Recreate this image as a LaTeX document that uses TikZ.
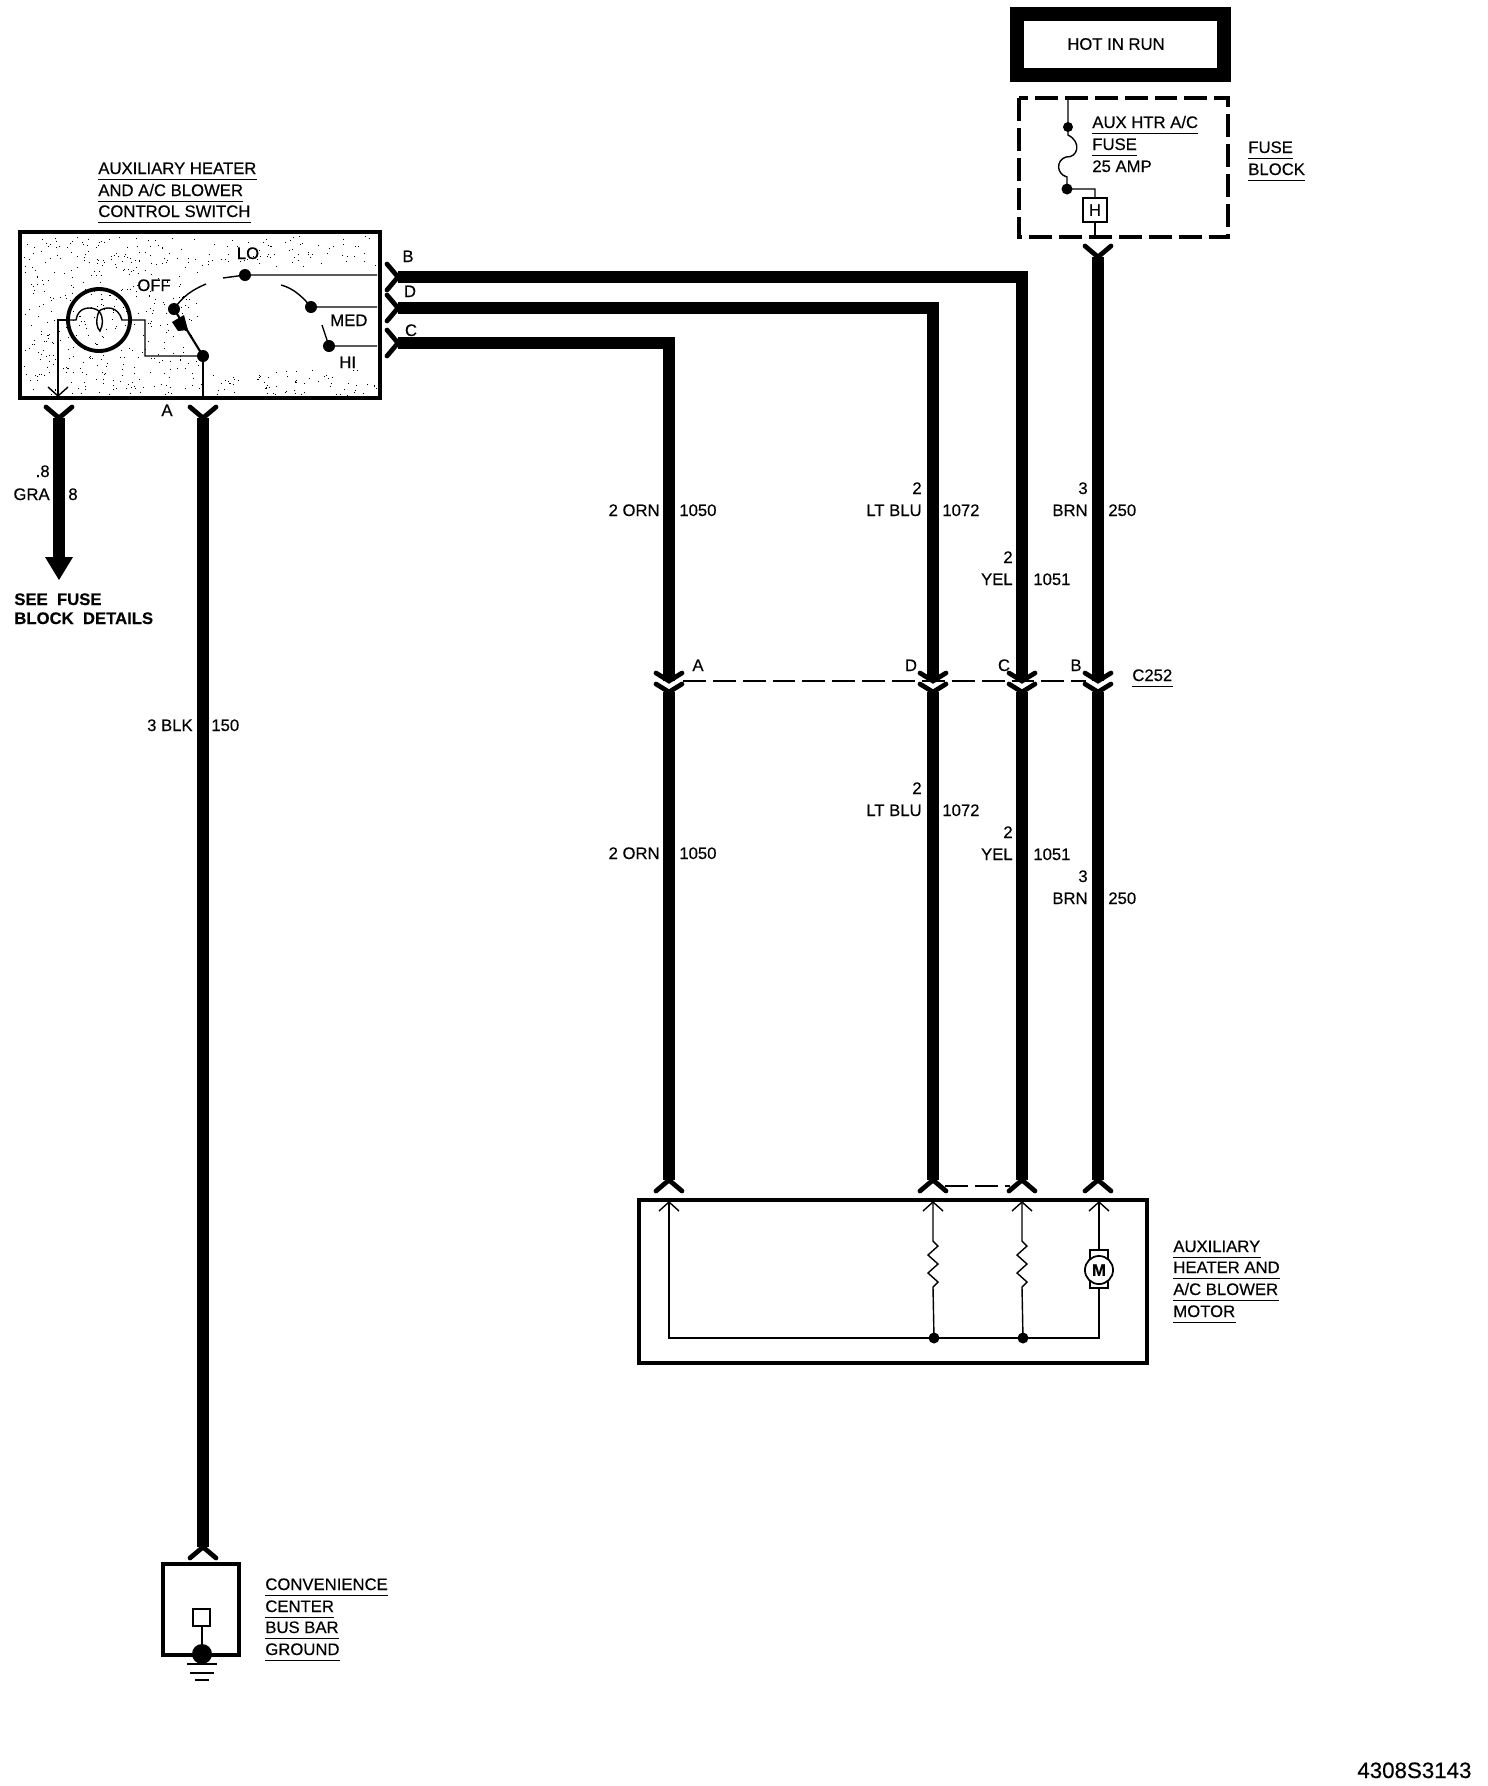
\documentclass[tikz,border=0pt]{standalone}
\usepackage{fontspec}
\usetikzlibrary{shapes.geometric}
\setmainfont[FakeBold=0.3]{Liberation Sans}
\tikzset{
	wire/.style={line width=7.2pt},
	thinwire/.style={line width=0.8pt},
	pinarm/.style={line width=2.7pt, line cap=round},
	lbl/.style={font=\fontsize{9.5}{11}\selectfont, inner sep=0pt},
	pics/fork/.style={code={\draw[pinarm] (-13,-11) -- (0,0) -- (13,-11);}},
	pics/mate/.style={code={\draw[pinarm] (-13,-8) -- (0,0) -- (13,-8);}},
	pics/openarrow/.style={code={\draw[thinwire] (-10,9) -- (0,0) -- (10,9);}}
}
\begin{document}
\begin{tikzpicture}[x=0.02cm, y=-0.02cm]

\useasboundingbox (0, 0) rectangle (1488, 1786);

% control switch
\pgfmathsetseed{7}
\foreach \i in {1,...,420} {
	\pgfmathsetmacro\sx{24+rnd*175}
	\pgfmathsetmacro\sy{236+rnd*158}
	\fill (\sx, \sy) rectangle ++(1, 1);
}
\foreach \i in {1,...,70} {
	\pgfmathsetmacro\sx{200+rnd*176}
	\pgfmathsetmacro\sy{236+rnd*30}
	\fill (\sx, \sy) rectangle ++(1, 1);
	\pgfmathsetmacro\tx{200+rnd*176}
	\pgfmathsetmacro\ty{370+rnd*26}
	\fill (\tx, \ty) rectangle ++(1, 1);
}
\draw[line width=2.3pt] (20, 232) rectangle (380, 398);
\draw[line width=2.2pt] (99, 320) circle (31);
\draw[thinwire] (58, 396) -- (58, 320) -- (66, 320);
\pic[rotate=180] at (58, 396) {openarrow};
\draw[thinwire] (68, 320) -- (76, 320) .. controls (78, 306) and (92, 306) .. (99, 311)
	.. controls (95, 322) and (97, 328) .. (100, 331) .. controls (103, 325) and (104, 318) .. (99, 311)
	.. controls (106, 306) and (118, 306) .. (122, 320) -- (145, 320) -- (145, 356) -- (203, 356);
\coordinate (swcom) at (203, 356);
\coordinate (swoff) at (174, 309);
\draw[thinwire] (swcom) -- (203, 397);
\draw[line width=1.2pt] (swcom) -- (swoff);
\fill (172, 322) -- (184, 315) -- (188, 330) -- (178, 331) -- cycle;
\draw[thinwire] (swoff) .. controls (183, 296) and (192, 290) .. (206, 284);
\draw[thinwire] (223, 278) -- (245, 275) -- (377, 275);
\draw[thinwire] (281, 285) .. controls (293, 288) and (303, 297) .. (311, 307) -- (377, 307);
\draw[thinwire] (322, 325) -- (329, 346) -- (377, 346);
\foreach \x/\y in {203/356, 174/309, 245/275, 311/307, 329/346}
	\fill (\x, \y) circle (6);
\node[lbl, anchor=base] (lo) at (248, 259) {LO};
\node[lbl, anchor=base west] (off) at (137, 291) {OFF};
\node[lbl, anchor=base west] (med) at (330, 326) {MED};
\node[lbl, anchor=base west] (hi) at (339, 368) {HI};

% titles with a rule under each line
\foreach \n/\x/\y/\t in {
	t1/98/174/{AUXILIARY HEATER},
	t2/98/196/{AND A/C BLOWER},
	t3/98/217/{CONTROL SWITCH},
	t4/1092/128/{AUX HTR A/C},
	t5/1092/150/{FUSE},
	t6/1248/153/{FUSE},
	t7/1248/175/{BLOCK},
	t8/1173/1252/{AUXILIARY},
	t9/1173/1273/{HEATER AND},
	t10/1173/1295/{A/C BLOWER},
	t11/1173/1317/{MOTOR},
	t12/265/1590/{CONVENIENCE},
	t13/265/1612/{CENTER},
	t14/265/1633/{BUS BAR},
	t15/265/1655/{GROUND},
	t16/1132/681/{C252}}
{
	\node[lbl, anchor=base west] (\n) at (\x, \y) {\t};
	\draw[line width=0.6pt] ([yshift=-3.2pt]\n.base west) -- ([yshift=-3.2pt]\n.base east);
}
\node[lbl, anchor=base west] (amp) at (1092, 172) {25 AMP};

% hot in run and fuse block
\draw[line width=8pt] (1017, 14) rectangle (1224, 75);
\node[lbl] (hot) at (1116, 44) {HOT IN RUN};
\draw[line width=2pt, dash pattern=on 13pt off 4pt] (1019, 98) rectangle (1228, 237);
\coordinate (fusetop) at (1068, 98);
\coordinate (fusea) at (1068, 127);
\coordinate (fuseb) at (1067, 189);
\draw[thinwire] (fusetop) -- (fusea) -- ++(0, 8) .. controls (1082, 142) and (1078, 158) .. (1066, 157)
	.. controls (1056, 160) and (1056, 174) .. (1067, 177) -- (fuseb) -- (1095, 189) -- (1095, 198);
\fill (fusea) circle (5);
\fill (fuseb) circle (5.5);
\node[draw, thinwire, lbl, minimum width=13.6pt, minimum height=13.6pt] (fuseH) at (1095, 210) {H};
\draw[thinwire] (fuseH) -- (1095, 235);

% wires
\coordinate (swB) at (398, 277);
\coordinate (swD) at (398, 308);
\coordinate (swC) at (398, 343);
\coordinate (fuseout) at (1098, 257);
\foreach \s in {swB, swD, swC}
	\pic[rotate=90] at (\s) {fork};
\pic at (fuseout) {fork};
\foreach \n/\x in {A/669, D/933, C/1022, B/1098} {
	\coordinate (up\n) at (\x, 681);
	\coordinate (lo\n) at (\x, 692);
	\coordinate (mo\n) at (\x, 1180);
	\draw[wire] (lo\n) -- (mo\n);
	\pic at (up\n) {mate};
	\pic at (lo\n) {mate};
	\pic[rotate=180] at (mo\n) {fork};
}
\draw[wire] (swC) -| (upA);
\draw[wire] (swD) -| (upD);
\draw[wire] (swB) -| (upC);
\draw[wire] (fuseout) -- (upB);

\coordinate (swA) at (203, 418);
\coordinate (gnd) at (203, 1547);
\coordinate (gra) at (59, 418);
\coordinate (graend) at (59, 558);
\pic at (swA) {fork};
\pic at (gra) {fork};
\pic[rotate=180] at (gnd) {fork};
\draw[wire] (swA) -- (gnd);
\draw[wire] (gra) -- (graend);
\fill (45, 557) -- (73, 557) -- (59, 580) -- cycle;

% connector
\draw[line width=0.9pt, dash pattern=on 13pt off 4pt] (683, 681) -- (1086, 681);
\draw[line width=0.9pt, dash pattern=on 13pt off 4pt] (945, 1186) -- (1010, 1186);

% blower motor
\draw[line width=2.2pt] (639, 1200) rectangle (1147, 1363);
\foreach \x in {669, 933, 1022, 1099}
	\pic at (\x, 1202) {openarrow};
\coordinate (busA) at (669, 1338);
\coordinate (busD) at (934, 1338);
\coordinate (busC) at (1023, 1338);
\coordinate (busB) at (1099, 1338);
\draw[thinwire] (669, 1202) -- (busA) -- (busB) -- (1099, 1288);
\foreach \x/\b in {933/busD, 1022/busC}
	\draw[thinwire] (\x, 1202) -- ++(0, 39) -- ++(5, 5) -- ++(-10, 9) -- ++(10, 9) -- ++(-10, 9) -- ++(10, 9) -- ++(-5, 5) -- (\b);
\fill (busD) circle (5.5);
\fill (busC) circle (5.5);
\draw[thinwire] (1099, 1202) -- (1099, 1250);
\draw[thinwire] (1090, 1250) rectangle (1108, 1288);
\node[draw, fill=white, ellipse, line width=1pt, minimum width=16pt, minimum height=16pt, inner sep=0pt, font=\fontsize{9.5}{11}\selectfont\bfseries] (motor) at (1099, 1270) {M};

% ground
\draw[line width=2.3pt] (163, 1564) rectangle (239, 1655);
\draw[line width=1.4pt] (193, 1609) rectangle (210, 1626);
\draw[thinwire] (202, 1626) -- (202, 1654);
\fill (202, 1654) circle (10);
\foreach \y/\w in {1664/15, 1673/12, 1680/7}
	\draw[line width=1.6pt] (202-\w, \y) -- (202+\w, \y);

% wire labels, the part left of the wire
\foreach \n/\x/\y/\t in {
	a1/660/516/{2 ORN},
	a2/660/859/{2 ORN},
	a3/922/494/{2},
	a4/922/516/{LT BLU},
	a5/922/794/{2},
	a6/922/816/{LT BLU},
	a7/1013/563/{2},
	a8/1013/585/{YEL},
	a9/1013/838/{2},
	a10/1013/860/{YEL},
	a11/1088/494/{3},
	a12/1088/516/{BRN},
	a13/1088/882/{3},
	a14/1088/904/{BRN},
	a15/193/731/{3 BLK},
	a16/50/477/{.8},
	a17/50/500/{GRA}}
	\node[lbl, anchor=base east] (\n) at (\x, \y) {\t};

% wire labels, the part right of the wire
\foreach \n/\x/\y/\t in {
	b1/679/516/{1050},
	b2/679/859/{1050},
	b3/942/516/{1072},
	b4/942/816/{1072},
	b5/1033/585/{1051},
	b6/1033/860/{1051},
	b7/1108/516/{250},
	b8/1108/904/{250},
	b9/211/731/{150},
	b10/68/500/{8}}
	\node[lbl, anchor=base west] (\n) at (\x, \y) {\t};

% pin letters
\foreach \n/\x/\y/\t in {
	p1/408/262/B, p2/410/297/D, p3/411/336/C, p4/167/416/A,
	p5/698/671/A, p6/911/671/D, p7/1004/671/C, p8/1076/671/B}
	\node[lbl, anchor=base] (\n) at (\x, \y) {\t};

\node[lbl, anchor=base west, font=\fontsize{9.5}{11}\selectfont\bfseries] (see) at (14, 605) {SEE\ \ FUSE};
\node[lbl, anchor=base west, font=\fontsize{9.5}{11}\selectfont\bfseries] (details) at (14, 624) {BLOCK\ \ DETAILS};
\node[lbl, anchor=base west, font=\fontsize{12.7}{14}\selectfont] (partno) at (1357, 1778) {4308S3143};

\end{tikzpicture}
\end{document}
